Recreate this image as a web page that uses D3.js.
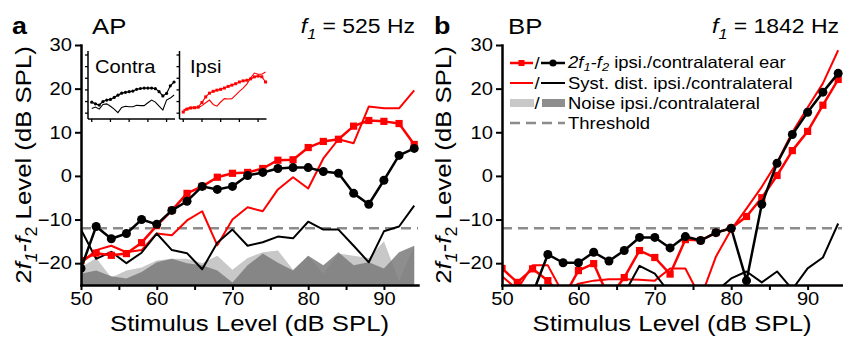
<!DOCTYPE html>
<html>
<head>
<meta charset="utf-8">
<script src="https://cdn.jsdelivr.net/npm/d3@7"></script>
<style>
  body { margin: 0; background: #fff; }
  svg { display: block; font-family: "Liberation Sans", Arial, sans-serif; }
</style>
</head>
<body>
<script>
// stimulus levels (dB SPL)
const levels = [50, 52, 54, 56, 58, 60, 62, 64, 66, 68, 70, 72, 74, 76, 78, 80, 82, 84, 86, 88, 90, 92, 94];
const threshold = -12;

// panel a: AP, f1 = 525 Hz
const apIpsi = [-19.4, -17.7, -18.2, -17.8, -15.3, -11.4, -7.9, -4.0, -2.4, -0.3, 0.6, 0.8, 1.7, 3.6, 3.7, 6.5, 7.9, 8.4, 11.4, 12.7, 12.5, 12.0, 7.2];
const apContra = [-21.2, -11.6, -14.4, -13.2, -10.0, -11.1, -7.9, -5.8, -2.4, -3.1, -2.4, 0.1, 0.8, 1.7, 1.9, 1.9, 1.0, 0.6, -4.0, -6.5, -1.0, 4.7, 6.3];
const apSystIpsi = [-20, -17, -16, -17.5, -17, -13.2, -13.6, -10.2, -8.1, -15.9, -10, -7.2, -8.1, -3.1, -0.3, -2.9, 4.0, 8.4, 7.5, 15.9, 15.5, 15.5, 19.6];
const apSystContra = [-12.3, -19, -17.4, -20, -17.6, -13.2, -17, -17.7, -21.4, -15.3, -12.3, -16, -15.2, -13.9, -14.3, -10.5, -12.3, -12.3, -16, -19.8, -12.7, -11.6, -6.8];
const apNoiseIpsi = [-21, -18.8, -23.3, -21.7, -21, -19.4, -19, -19, -20, -18.3, -21.5, -18.8, -17.5, -17.1, -21.5, -18.3, -22.4, -17.8, -18.3, -18.8, -15, -24, -16];
const apNoiseContra = [-22.4, -21.7, -23, -23.5, -22, -19.8, -19, -20, -20.5, -21.7, -24.4, -20.5, -17.8, -19.9, -21.7, -18.3, -20.5, -17.5, -20.5, -19.8, -21.2, -17.5, -16];

// insets of panel a
const insetContraDots = [-10.5, -12, -13, -10, -8.7, -8.2, -6.5, -4.5, -2.8, -2.1, -1.5, -1, 0.5, 1.2, 1.6, 1.6, 1.6, 1.1, -1.5, -5.2, -3, 3.5, 6.8];
const insetContraSyst = [-16, -14.7, -16.5, -12.5, -12, -14, -16.5, -19.5, -15, -14, -14.5, -14.5, -13.2, -13.5, -13.5, -11, -8.7, -10.5, -14, -17.3, -8.7, -7, -4.4];
const insetIpsiDots = [-19, -16.5, -15.6, -15.3, -14.7, -10.8, -6, -2.8, -1.2, -0.2, 0.5, 1.6, 3, 4.1, 5.3, 6.8, 7.8, 8.3, 9.5, 11.2, 11.9, 11.3, 6.8];
const insetIpsiSyst = [-17.3, -16, -14.7, -15.2, -15.4, -13.5, -11, -8.7, -12.5, -14, -10.4, -7.5, -7.8, -7.5, -4.4, -1.2, 1.5, 5, 10.2, 14.5, 13.5, 13.5, 15.4];

// panel b: BP, f1 = 1842 Hz
const bpIpsi = [-21.2, -24.4, -21.3, -24, -28, -21.7, -20.1, -28, -23.3, -17.1, -18.7, -22.5, -14.6, -14.8, -13, -12, -9.3, -5, 0.1, 5.8, 10.2, 16.2, 22.1];
const bpContra = [-30, -30, -27, -18, -19.9, -19.9, -17.5, -19.5, -17.1, -14.1, -14.1, -16.5, -13.9, -14.8, -13, -12, -24, -6.5, 2.9, 9.5, 14.6, 19.2, 23.5];
const bpSystIpsi = [-23, -26, -20.5, -20.5, -27, -24.7, -24, -23.7, -23.7, -23.8, -24, -21.2, -21.2, -28, -18.5, -12.3, -7.5, -2.5, 3.1, 10, 15.7, 21.2, 28.8];
const bpSystContra = [-30, -30, -30, -30, -30, -30, -30, -30, -27, -20.6, -22.4, -27, -30, -30, -26.5, -23.5, -21.9, -24.4, -21.9, -26, -21.2, -18.7, -10.9];

const yTicks = [-20, -10, 0, 10, 20, 30];
const xTicks = [50, 55, 60, 65, 70, 75, 80, 85, 90];

const RED = "#ff0000";
const LIGHT = "#c8c8c8";
const DARK = "#7a7a7a";
const DASH = "#8c8c8c";
const SX = 1.12; // glyphs in the figure are a bit wide

const svg = d3.select("body").append("svg")
    .attr("width", 843)
    .attr("height", 345);

function label(parent, x, y, size, anchor, rot) {
    return parent.append("text")
        .attr("transform", `translate(${x},${y})${rot ? " rotate(" + rot + ")" : ""} scale(${SX},1)`)
        .attr("text-anchor", anchor || "start")
        .style("font-size", size + "px");
}

// parts: {t, i: italic, s: subscript}
function rich(sel, parts, size, shift) {
    const off = size * (shift || 0.28);
    let shifted = false;
    parts.forEach((p) => {
        const ts = sel.append("tspan").text(p.t);
        if (p.i) ts.style("font-style", "italic");
        if (p.s) {
            ts.style("font-size", size * 0.7 + "px");
            if (!shifted) { ts.attr("dy", off); shifted = true; }
        } else if (shifted) {
            ts.attr("dy", -off);
            shifted = false;
        }
    });
    return sel;
}

function panel(cfg) {
    const x = d3.scaleLinear().domain([50, 94.5]).range([cfg.x0, cfg.x1]);
    const y = d3.scaleLinear().domain([-25, 30]).range([285, 45]);
    const g = svg.append("g");

    svg.append("clipPath").attr("id", "clip" + cfg.id)
        .append("rect")
        .attr("x", cfg.x0).attr("y", 0)
        .attr("width", cfg.x1 - cfg.x0 + 8).attr("height", 285);

    const plot = g.append("g").attr("clip-path", `url(#clip${cfg.id})`);

    if (cfg.noiseIpsi) {
        const area = (vals) => d3.area()
            .x((d, i) => x(levels[i]))
            .y0(y(-25))
            .y1((d) => y(d))(vals);
        plot.append("path").attr("d", area(cfg.noiseIpsi)).attr("fill", LIGHT);
        plot.append("path").attr("d", area(cfg.noiseContra)).attr("fill", DARK).attr("fill-opacity", 0.85);
    }

    plot.append("line")
        .attr("x1", x(50)).attr("x2", cfg.x1)
        .attr("y1", y(threshold)).attr("y2", y(threshold))
        .attr("stroke", DASH).attr("stroke-width", 2.5)
        .attr("stroke-dasharray", "10,6");

    const line = d3.line().x((d, i) => x(levels[i])).y((d) => y(d));

    plot.append("path").attr("d", line(cfg.systIpsi))
        .attr("fill", "none").attr("stroke", RED).attr("stroke-width", 2).attr("stroke-linejoin", "round");
    plot.append("path").attr("d", line(cfg.systContra))
        .attr("fill", "none").attr("stroke", "#000").attr("stroke-width", 2).attr("stroke-linejoin", "round");

    plot.append("path").attr("d", line(cfg.ipsi))
        .attr("fill", "none").attr("stroke", RED).attr("stroke-width", 2.5).attr("stroke-linejoin", "round");
    plot.append("g").selectAll("rect")
        .data(levels.map((l, i) => [l, cfg.ipsi[i]]).filter((d) => d[1] >= -25.5))
        .join("rect")
        .attr("x", (d) => x(d[0]) - 3.6).attr("y", (d) => y(d[1]) - 3.6)
        .attr("width", 7.2).attr("height", 7.2)
        .attr("fill", RED);

    plot.append("path").attr("d", line(cfg.contra))
        .attr("fill", "none").attr("stroke", "#000").attr("stroke-width", 2.5).attr("stroke-linejoin", "round");
    plot.append("g").selectAll("circle")
        .data(levels.map((l, i) => [l, cfg.contra[i]]).filter((d) => d[1] >= -25.5))
        .join("circle")
        .attr("cx", (d) => x(d[0])).attr("cy", (d) => y(d[1]))
        .attr("r", 4.5)
        .attr("fill", "#000");

    // axes
    const xAxis = g.append("g")
        .attr("transform", "translate(0,285)")
        .call(d3.axisBottom(x).tickValues(xTicks).tickSize(5).tickPadding(2).tickSizeOuter(0)
            .tickFormat((d) => (d % 10 ? "" : d)));
    const yAxis = g.append("g")
        .attr("transform", `translate(${cfg.x0},0)`)
        .call(d3.axisLeft(y).tickValues(yTicks).tickSize(6).tickSizeOuter(0));

    [xAxis, yAxis].forEach((a) => {
        a.select(".domain").attr("stroke-width", 2.5).attr("stroke-linecap", "square");
        a.selectAll(".tick line").attr("stroke-width", 2);
        a.selectAll(".tick text")
            .attr("fill", "#000")
            .style("font-size", "18px")
            .style("font-family", "'Liberation Sans', Arial, sans-serif")
            .attr("transform", `scale(${SX},1)`);
    });
    yAxis.selectAll(".tick text").attr("x", -8);

    // titles
    label(g, (cfg.x0 + cfg.x1) / 2, 331, 23, "middle").text("Stimulus Level (dB SPL)");
    rich(label(g, cfg.yTitleX, 165, 23, "middle", -90),
        [{ t: "2" }, { t: "f", i: 1 }, { t: "1", i: 1, s: 1 }, { t: "-" }, { t: "f", i: 1 }, { t: "2", s: 1 }, { t: " Level (dB SPL)" }], 23);

    label(g, cfg.letterX, 34, 24).style("font-weight", "bold").text(cfg.letter);
    label(g, cfg.nameX, 34, 23).text(cfg.name);
    rich(label(g, cfg.x1 - 3, 33, 20.5, "end"),
        [{ t: "f", i: 1 }, { t: "1", i: 1, s: 1 }, { t: " = " + cfg.freq + " Hz" }], 20.5);

    return { g, x, y };
}

function inset(parent, x0, x1, dots, syst, color, marker, title, titleX) {
    const x = d3.scaleLinear().domain([48, 94.5]).range([x0, x1]);
    const y = d3.scaleLinear().domain([-25, 30]).range([119, 55]);
    const g = parent.append("g");

    g.append("line").attr("x1", x0).attr("x2", x0).attr("y1", 119).attr("y2", 51)
        .attr("stroke", "#000").attr("stroke-width", 1.5);
    g.append("line").attr("x1", x0).attr("x2", x1).attr("y1", 119).attr("y2", 119)
        .attr("stroke", "#000").attr("stroke-width", 1.5);
    g.selectAll(".yt").data(yTicks).join("line")
        .attr("x1", x0 - 3).attr("x2", x0)
        .attr("y1", (d) => y(d)).attr("y2", (d) => y(d))
        .attr("stroke", "#000").attr("stroke-width", 1.3);
    g.selectAll(".xt").data([50, 60, 70, 80, 90]).join("line")
        .attr("x1", (d) => x(d)).attr("x2", (d) => x(d))
        .attr("y1", 119).attr("y2", 122)
        .attr("stroke", "#000").attr("stroke-width", 1.3);

    const line = d3.line().x((d, i) => x(levels[i])).y((d) => y(d));
    g.append("path").attr("d", line(syst))
        .attr("fill", "none").attr("stroke", color).attr("stroke-width", 1.1);
    g.append("path").attr("d", line(dots))
        .attr("fill", "none").attr("stroke", color).attr("stroke-width", 1.2);
    if (marker === "circle") {
        g.selectAll("circle").data(dots).join("circle")
            .attr("cx", (d, i) => x(levels[i])).attr("cy", (d) => y(d))
            .attr("r", 1.6).attr("fill", color);
    } else {
        g.selectAll("rect").data(dots).join("rect")
            .attr("x", (d, i) => x(levels[i]) - 1.5).attr("y", (d) => y(d) - 1.5)
            .attr("width", 3).attr("height", 3).attr("fill", color);
    }
    label(g, titleX, 73, 18).text(title);
}

const pa = panel({
    id: "a", x0: 81, x1: 418, letter: "a", letterX: 12, name: "AP", nameX: 92, freq: "525", yTitleX: 31,
    ipsi: apIpsi, contra: apContra, systIpsi: apSystIpsi, systContra: apSystContra,
    noiseIpsi: apNoiseIpsi, noiseContra: apNoiseContra
});
inset(pa.g, 88, 175, insetContraDots, insetContraSyst, "#000", "circle", "Contra", 95);
inset(pa.g, 179.5, 266.5, insetIpsiDots, insetIpsiSyst, RED, "square", "Ipsi", 190);

const pb = panel({
    id: "b", x0: 502, x1: 842, letter: "b", letterX: 434, name: "BP", nameX: 508, freq: "1842", yTitleX: 451,
    ipsi: bpIpsi, contra: bpContra, systIpsi: bpSystIpsi, systContra: bpSystContra
});

// legend in panel b
const lg = pb.g.append("g");
const rows = [63, 83, 103, 123];
const lx = 510;
const LF = 16.5;
lg.append("line").attr("x1", lx).attr("x2", lx + 23).attr("y1", rows[0]).attr("y2", rows[0])
    .attr("stroke", RED).attr("stroke-width", 2.5);
lg.append("rect").attr("x", lx + 8.5).attr("y", rows[0] - 3).attr("width", 6).attr("height", 6).attr("fill", RED);
lg.append("line").attr("x1", lx + 31).attr("x2", lx + 55).attr("y1", rows[0]).attr("y2", rows[0])
    .attr("stroke", "#000").attr("stroke-width", 2.5);
lg.append("circle").attr("cx", lx + 43).attr("cy", rows[0]).attr("r", 3.6).attr("fill", "#000");

lg.append("line").attr("x1", lx).attr("x2", lx + 23).attr("y1", rows[1]).attr("y2", rows[1])
    .attr("stroke", RED).attr("stroke-width", 2);
lg.append("line").attr("x1", lx + 31).attr("x2", lx + 55).attr("y1", rows[1]).attr("y2", rows[1])
    .attr("stroke", "#000").attr("stroke-width", 2);

lg.append("rect").attr("x", lx).attr("y", rows[2] - 4).attr("width", 24).attr("height", 8).attr("fill", LIGHT);
lg.append("rect").attr("x", lx + 32).attr("y", rows[2] - 4).attr("width", 23).attr("height", 8).attr("fill", DARK).attr("fill-opacity", 0.85);

lg.append("line").attr("x1", lx).attr("x2", lx + 55).attr("y1", rows[3]).attr("y2", rows[3])
    .attr("stroke", DASH).attr("stroke-width", 2.5).attr("stroke-dasharray", "10,6");

rows.slice(0, 3).forEach((r) => label(lg, lx + 24.5, r + 6, LF).text("/"));

rich(label(lg, lx + 58, rows[0] + 5, LF),
    [{ t: "2", i: 1 }, { t: "f", i: 1 }, { t: "1", i: 1, s: 1 }, { t: "-", i: 1 }, { t: "f", i: 1 }, { t: "2", i: 1, s: 1 }, { t: " ipsi./contralateral ear" }], LF, 0.2);
label(lg, lx + 58, rows[1] + 6, LF).text("Syst. dist. ipsi./contralateral");
label(lg, lx + 58, rows[2] + 6, LF).text("Noise ipsi./contralateral");
label(lg, lx + 58, rows[3] + 6, LF).text("Threshold");
</script>
</body>
</html>
